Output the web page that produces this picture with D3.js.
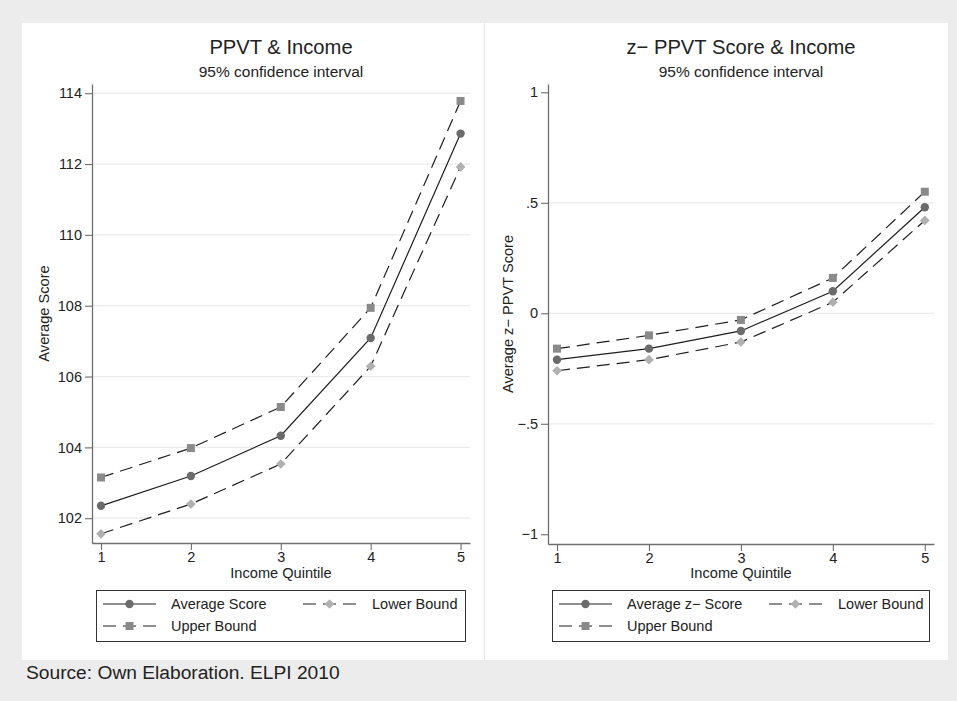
<!DOCTYPE html>
<html>
<head>
<meta charset="utf-8">
<script src="https://cdn.jsdelivr.net/npm/d3@7/dist/d3.min.js"></script>
<style>
  body { margin: 0; background: #ececec; }
  svg { display: block; font-family: "Liberation Sans", Arial, sans-serif; }
</style>
</head>
<body>
<svg id="chart" width="957" height="701"></svg>
<script>
// data
const quintiles = [1, 2, 3, 4, 5];

const ppvtAverage = [102.35, 103.19, 104.33, 107.09, 112.86];
const ppvtUpper   = [103.15, 103.98, 105.14, 107.94, 113.78];
const ppvtLower   = [101.56, 102.40, 103.53, 106.29, 111.92];

const zAverage = [-0.21, -0.16, -0.08, 0.10, 0.48];
const zUpper   = [-0.16, -0.10, -0.03, 0.16, 0.55];
const zLower   = [-0.26, -0.21, -0.13, 0.05, 0.42];

const ppvtTicks = [102, 104, 106, 108, 110, 112, 114];
const zTicks = [-1, -0.5, 0, 0.5, 1];
const zTickLabels = ["\u22121", "\u2212.5", "0", ".5", "1"];

const svg = d3.select("#chart");

// white panels
svg.append("rect").attr("x", 22).attr("y", 23).attr("width", 926).attr("height", 637).attr("fill", "#fff");
svg.append("line").attr("x1", 484.5).attr("x2", 484.5).attr("y1", 23).attr("y2", 660)
  .attr("stroke", "#e6e6e6").attr("stroke-width", 1);

svg.append("text").attr("x", 26).attr("y", 679)
  .attr("font-size", 19.2).attr("fill", "#222")
  .text("Source: Own Elaboration. ELPI 2010");

const seriesStyle = {
  avg:   { dash: null,   marker: "circle",  fill: "#6b6b6b" },
  upper: { dash: "13,7", marker: "square",  fill: "#8a8a8a" },
  lower: { dash: "13,7", marker: "diamond", fill: "#b0b0b0" }
};

function drawMarker(g, type, x, y, fill) {
  if (type === "circle") {
    g.append("circle").attr("cx", x).attr("cy", y).attr("r", 4.2).attr("fill", fill);
  } else if (type === "square") {
    g.append("rect").attr("x", x - 4).attr("y", y - 4).attr("width", 8).attr("height", 8).attr("fill", fill);
  } else {
    g.append("path").attr("d", d3.symbol(d3.symbolDiamond2, 60)()).attr("transform", `translate(${x},${y})`).attr("fill", fill);
  }
}

function panel(cfg) {
  const x = d3.scaleLinear().domain(cfg.xDomain).range([cfg.left, cfg.right]);
  const y = d3.scaleLinear().domain(cfg.yDomain).range([cfg.bottom, cfg.top]);
  const g = svg.append("g");
  const cx = (cfg.left + cfg.right) / 2;

  g.append("text").attr("x", cx).attr("y", 54).attr("text-anchor", "middle")
    .attr("font-size", 20.2).attr("fill", "#222").text(cfg.title);
  g.append("text").attr("x", cx).attr("y", 77).attr("text-anchor", "middle")
    .attr("font-size", 15.5).attr("fill", "#222").text("95% confidence interval");

  // gridlines
  g.selectAll(".grid").data(cfg.grid).enter().append("line")
    .attr("x1", cfg.left).attr("x2", cfg.right)
    .attr("y1", d => y(d)).attr("y2", d => y(d))
    .attr("stroke", "#ebebeb").attr("stroke-width", 1.2);

  // axes
  const yAxis = g.append("g").attr("transform", `translate(${cfg.left},0)`)
    .call(d3.axisLeft(y).tickValues(cfg.yTicks).tickFormat((d, i) => cfg.yLabels[i]).tickSize(7).tickPadding(3).tickSizeOuter(0));
  const xAxis = g.append("g").attr("transform", `translate(0,${cfg.bottom})`)
    .call(d3.axisBottom(x).tickValues(quintiles).tickFormat(d3.format("d")).tickSize(7).tickPadding(2).tickSizeOuter(0));
  [yAxis, xAxis].forEach(a => {
    a.select(".domain").attr("stroke", "#6e6e6e").attr("stroke-width", 1.3);
    a.selectAll(".tick line").attr("stroke", "#6e6e6e").attr("stroke-width", 1.1);
    a.selectAll(".tick text").attr("font-size", 14.5).attr("fill", "#222")
      .attr("font-family", "'Liberation Sans', Arial, sans-serif");
  });

  g.append("text").attr("x", cx).attr("y", 578).attr("text-anchor", "middle")
    .attr("font-size", 14.6).attr("fill", "#222").text("Income Quintile");
  g.append("text").attr("transform", `translate(${cfg.yTitleX},${(cfg.top + cfg.bottom) / 2}) rotate(-90)`)
    .attr("text-anchor", "middle").attr("font-size", 14.6).attr("fill", "#222").text(cfg.yTitle);

  const line = d3.line().x((d, i) => x(quintiles[i])).y(d => y(d));
  cfg.series.forEach(s => {
    const st = seriesStyle[s.key];
    g.append("path").attr("d", line(s.values)).attr("fill", "none")
      .attr("stroke", "#1e1e1e").attr("stroke-width", 1.2)
      .attr("stroke-dasharray", st.dash);
  });
  cfg.series.forEach(s => {
    const st = seriesStyle[s.key];
    s.values.forEach((v, i) => drawMarker(g, st.marker, x(quintiles[i]), y(v), st.fill));
  });

  // legend
  const lg = g.append("g");
  lg.append("rect").attr("x", cfg.legend.x0 + 0.5).attr("y", 590.5)
    .attr("width", cfg.legend.x1 - cfg.legend.x0).attr("height", 51)
    .attr("fill", "#fff").attr("stroke", "#333").attr("stroke-width", 1);
  const slots = [
    { key: "avg",   sx: cfg.legend.x0 + 7,  ty: 604, tx: cfg.legend.x0 + 75 },
    { key: "lower", sx: cfg.legend.col2,    ty: 604, tx: cfg.legend.col2 + 69 },
    { key: "upper", sx: cfg.legend.x0 + 7,  ty: 626, tx: cfg.legend.x0 + 75 }
  ];
  slots.forEach(sl => {
    const st = seriesStyle[sl.key];
    const s = cfg.series.find(d => d.key === sl.key);
    lg.append("line").attr("x1", sl.sx).attr("x2", sl.sx + 53)
      .attr("y1", sl.ty).attr("y2", sl.ty)
      .attr("stroke", "#1e1e1e").attr("stroke-width", 1.2)
      .attr("stroke-dasharray", st.dash);
    drawMarker(lg, st.marker, sl.sx + 26.5, sl.ty, st.fill);
    lg.append("text").attr("x", sl.tx).attr("y", sl.ty + 5)
      .attr("font-size", 14.5).attr("fill", "#222").text(s.label);
  });
}

panel({
  title: "PPVT & Income",
  left: 92, right: 470, top: 84, bottom: 543,
  xDomain: [0.9, 5.105], yDomain: [101.30, 114.26],
  yTicks: ppvtTicks, yLabels: ppvtTicks.map(String), grid: ppvtTicks,
  yTitle: "Average Score", yTitleX: 49,
  series: [
    { key: "avg", values: ppvtAverage, label: "Average Score" },
    { key: "upper", values: ppvtUpper, label: "Upper Bound" },
    { key: "lower", values: ppvtLower, label: "Lower Bound" }
  ],
  legend: { x0: 96, x1: 465, col2: 303 }
});

panel({
  title: "z\u2212 PPVT Score & Income",
  left: 548, right: 934, top: 84, bottom: 544,
  xDomain: [0.902, 5.1], yDomain: [-1.044, 1.0375],
  yTicks: zTicks, yLabels: zTickLabels, grid: [-0.5, 0, 0.5],
  yTitle: "Average z\u2212 PPVT Score", yTitleX: 513,
  series: [
    { key: "avg", values: zAverage, label: "Average z\u2212 Score" },
    { key: "upper", values: zUpper, label: "Upper Bound" },
    { key: "lower", values: zLower, label: "Lower Bound" }
  ],
  legend: { x0: 552, x1: 929, col2: 769 }
});
</script>
</body>
</html>
